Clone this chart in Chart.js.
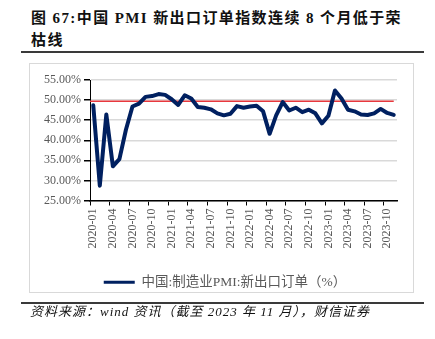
<!DOCTYPE html>
<html>
<head>
<meta charset="utf-8">
<script src="https://cdn.jsdelivr.net/npm/chart.js@4/dist/chart.umd.min.js"></script>
<style>
  body { margin: 0; width: 435px; height: 339px; background: #fff; position: relative; overflow: hidden; }
  .title { position: absolute; left: 31px; top: 7px; font: bold 15px "Liberation Serif", "Noto Sans CJK SC"; letter-spacing: 1.4px; line-height: 22px; color: #111; white-space: nowrap; }
  .rule { position: absolute; left: 21px; width: 403px; height: 2px; background: #3a3a3a; }
  .box { position: absolute; left: 29px; top: 63px; width: 385px; height: 230px; border: 1px solid #d9d9d9; box-sizing: border-box; z-index: 2; }
  #c { position: absolute; left: 30px; top: 64px; }
  .source { position: absolute; left: 30px; top: 304px; font: italic 13px "Liberation Serif", "Noto Sans CJK SC"; letter-spacing: 1px; line-height: 16px; color: #111; white-space: nowrap; }
</style>
</head>
<body>
<div class="title">图 67:中国 PMI 新出口订单指数连续 8 个月低于荣<br>枯线</div>
<div class="rule" style="top:51px"></div>
<canvas id="c" width="383" height="235"></canvas>
<div class="box"></div>
<div class="rule" style="top:302px"></div>
<div class="source">资料来源：wind 资讯（截至 2023 年 11 月），财信证券</div>
<script>
// 中国:制造业PMI:新出口订单, monthly
const months = [
  '2020-01','2020-02','2020-03','2020-04','2020-05','2020-06','2020-07','2020-08','2020-09','2020-10','2020-11','2020-12',
  '2021-01','2021-02','2021-03','2021-04','2021-05','2021-06','2021-07','2021-08','2021-09','2021-10','2021-11','2021-12',
  '2022-01','2022-02','2022-03','2022-04','2022-05','2022-06','2022-07','2022-08','2022-09','2022-10','2022-11','2022-12',
  '2023-01','2023-02','2023-03','2023-04','2023-05','2023-06','2023-07','2023-08','2023-09','2023-10','2023-11'
];
const newExportOrders = [
  48.7, 28.7, 46.4, 33.5, 35.3, 42.6, 48.4, 49.1, 50.8, 51.0, 51.5, 51.3,
  50.2, 48.8, 51.2, 50.4, 48.3, 48.1, 47.7, 46.7, 46.2, 46.6, 48.5, 48.1,
  48.4, 48.6, 47.2, 41.6, 46.2, 49.5, 47.4, 48.1, 47.0, 47.6, 46.7, 44.2,
  46.1, 52.4, 50.4, 47.6, 47.2, 46.4, 46.3, 46.7, 47.8, 46.8, 46.3
];
const seriesName = '中国:制造业PMI:新出口订单（%）';
const yMin = 25, yMax = 55, yStep = 5;
const boomBustLine = 49.7;   // red 荣枯线, drawn a touch under the 50 gridline
const labelEvery = 3;

const axisGray = '#595959';
const serif = '"Liberation Serif", "Noto Sans CJK SC"';

// red horizontal line, from the y axis to the last month
const refLine = {
  id: 'refLine',
  beforeDatasetsDraw(chart) {
    const { ctx, chartArea, scales } = chart;
    const y = scales.y.getPixelForValue(boomBustLine);
    const xEnd = scales.x.getPixelForValue(months.length - 1);
    ctx.save();
    ctx.strokeStyle = '#e8383d';
    ctx.lineWidth = 1.5;
    ctx.beginPath();
    ctx.moveTo(chartArea.left, y);
    ctx.lineTo(xEnd, y);
    ctx.stroke();
    ctx.restore();
  }
};

new Chart(document.getElementById('c'), {
  type: 'line',
  data: {
    labels: months,
    datasets: [{
      label: seriesName,
      data: newExportOrders,
      borderColor: '#002060',
      backgroundColor: '#002060',
      borderWidth: 4,
      pointRadius: 0,
      tension: 0,
      borderJoinStyle: 'round',
      borderCapStyle: 'round'
    }]
  },
  options: {
    responsive: false,
    animation: false,
    layout: { padding: { top: 16, right: 0, left: 7, bottom: 0 } },
    scales: {
      x: {
        offset: true,
        grid: {
          offset: true,
          drawOnChartArea: false,
          tickLength: 5,
          tickColor: ctx => (ctx.index % labelEvery === 0 ? '#000' : 'rgba(0,0,0,0)')
        },
        border: { color: '#000', width: 1.5 },
        ticks: {
          autoSkip: false,
          minRotation: 90,
          maxRotation: 90,
          padding: 3,
          color: axisGray,
          font: { family: serif, size: 12 },
          callback: function (v, i) { return i % labelEvery === 0 ? months[i] : ''; }
        },
        afterFit: s => { s.height = 67; }
      },
      y: {
        min: yMin,
        max: yMax,
        grid: { color: '#d9d9d9', lineWidth: 1.5, tickLength: 6, tickColor: '#000' },
        border: { color: '#000', width: 1 },
        ticks: {
          stepSize: yStep,
          padding: 3,
          color: axisGray,
          font: { family: serif, size: 12 },
          callback: v => v.toFixed(2) + '%'
        },
        afterFit: s => { s.width = 53; }
      },
      // empty right-hand gutter so the legend stays centred on the whole box
      yRight: {
        position: 'right',
        grid: { display: false },
        border: { display: false },
        ticks: { display: false },
        afterFit: s => { s.width = 16; }
      }
    },
    plugins: {
      legend: {
        position: 'bottom',
        labels: {
          boxWidth: 31,
          boxHeight: 3,
          padding: 8,
          color: axisGray,
          font: { family: serif, size: 13.5 },
          generateLabels: chart => Chart.defaults.plugins.legend.labels.generateLabels(chart)
            .map(item => Object.assign(item, { lineWidth: 0 }))
        }
      },
      tooltip: { enabled: false }
    }
  },
  plugins: [refLine]
});
</script>
</body>
</html>
